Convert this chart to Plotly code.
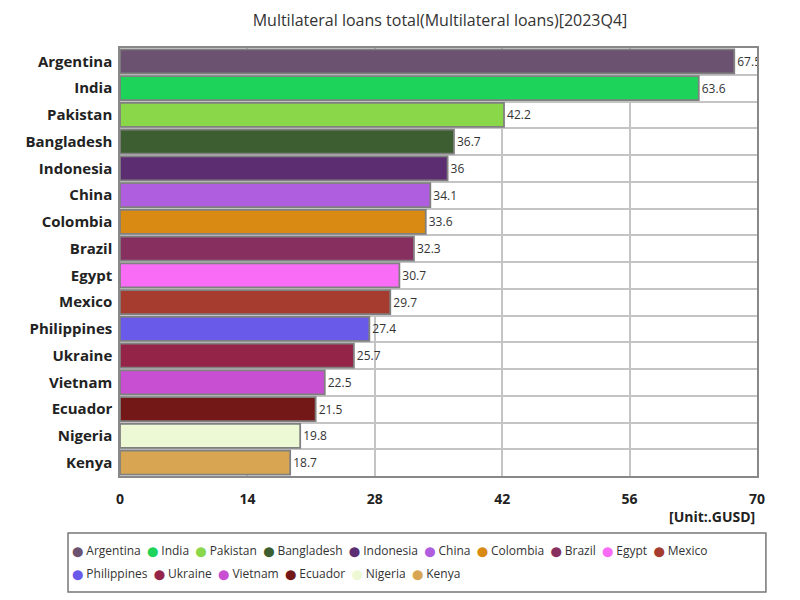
import plotly.graph_objects as go

countries = ['Argentina', 'India', 'Pakistan', 'Bangladesh', 'Indonesia', 'China',
             'Colombia', 'Brazil', 'Egypt', 'Mexico', 'Philippines', 'Ukraine',
             'Vietnam', 'Ecuador', 'Nigeria', 'Kenya']
loans = [67.5, 63.6, 42.2, 36.7, 36, 34.1, 33.6, 32.3, 30.7, 29.7, 27.4, 25.7,
         22.5, 21.5, 19.8, 18.7]
colors = ['#6b5270', '#1ed35a', '#8ad84a', '#3d5e30', '#5d2d72', '#b05ee0',
          '#d88a12', '#873060', '#f86cf6', '#a63c30', '#6a5aea', '#952548',
          '#c94fd2', '#731816', '#edf8d5', '#d8a652']
x_ticks = [0, 14, 28, 42, 56, 70]

fig = go.Figure()

for name, val, col in zip(countries, loans, colors):
    fig.add_trace(go.Bar(
        x=[val], y=[name], orientation='h', name=name,
        marker=dict(color=col, line=dict(color='#808080', width=1.8)),
        text=[f'{val:g}'], textposition='outside', cliponaxis=True,
        textfont=dict(size=12, color='#333333'),
        showlegend=False,
    ))


# legend rows drawn as text: coloured dot + name
def legend_row(names, cols):
    items = [f'<span style="color:{c};font-family:DejaVu Sans;font-size:10px">⬤</span> {n}'
             for n, c in zip(names, cols)]
    return '&nbsp;&nbsp;'.join(items)


rows = [(countries[:10], colors[:10], -0.175), (countries[10:], colors[10:], -0.227)]
annotations = [dict(text='<b>[Unit:.GUSD]</b>', x=1, y=-0.0935, xref='paper', yref='paper',
                    xanchor='right', yanchor='middle', showarrow=False,
                    font=dict(size=14, color='#222222'))]
for names, cols, ypos in rows:
    annotations.append(dict(text=legend_row(names, cols), x=-0.0785, y=ypos,
                            xref='paper', yref='paper', xanchor='left', yanchor='middle',
                            showarrow=False, font=dict(size=12, color='#333333')))

# page body has an 8px margin, so margins are shifted to compensate
fig.update_layout(
    width=800, height=600,
    paper_bgcolor='white', plot_bgcolor='white',
    font=dict(family='Open Sans', color='#222222'),
    title=dict(text='Multilateral loans total(Multilateral loans)[2023Q4]',
               x=0.54, xanchor='center', y=1 - 12 / 600, yanchor='middle',
               font=dict(size=16, color='#333333')),
    margin=dict(l=112, r=51, t=40, b=132),
    bargap=0.1,
    showlegend=False,
    annotations=annotations,
    shapes=[dict(type='rect', xref='paper', yref='paper', x0=-0.0816, x1=1.014,
                 y0=-0.271, y1=-0.133, line=dict(color='#777777', width=1.5))],
)

fig.update_xaxes(range=[0, 70], tickvals=x_ticks, showgrid=True, gridcolor='#c4c4c4',
                 gridwidth=1.5, tickfont=dict(size=14, color='#222222', weight='bold'),
                 ticklabelstandoff=9, showline=True, linecolor='#888888', linewidth=1.5,
                 mirror=True, zeroline=False, automargin=False)
fig.update_yaxes(categoryorder='array', categoryarray=countries[::-1],
                 tickson='boundaries', showgrid=True, gridcolor='#c4c4c4', gridwidth=1.5,
                 tickfont=dict(size=15, color='#222222', weight='bold'), ticks='',
                 ticklabelstandoff=3, showline=True, linecolor='#888888', linewidth=1.5,
                 mirror=True, automargin=False)

fig.write_html('out.html')
